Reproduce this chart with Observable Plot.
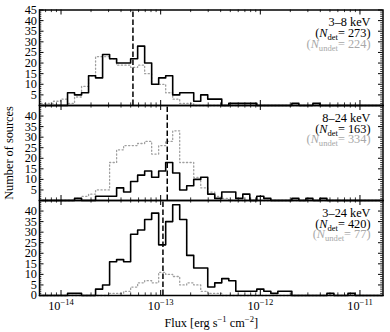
<!DOCTYPE html>
<html><head><meta charset="utf-8">
<script src="https://cdn.jsdelivr.net/npm/d3@7"></script>
<script src="https://cdn.jsdelivr.net/npm/@observablehq/plot@0.6"></script>
<style>
body{margin:0;background:#fff;}
#chart{position:relative;width:390px;height:332px;overflow:hidden;background:#fff;}
#chart svg{position:absolute;left:0;}
</style></head><body><div id="chart"></div>
<script>
// ---- data ----
const binLog0 = -14.216;      // log10 of first bin edge
const binLogWidth = 0.07035;  // bin width in dex
const nBins = 49;
const bands = ["3–8 keV", "8–24 keV", "3–24 keV"];
const nDet = [273, 163, 420];
const nUndet = [224, 334, 77];
const medianFlux = [5.27e-14, 1.164e-13, 1.054e-13];
const det38    = [0,0,0,0,6,5,6,14,13,24,22,20,20,22,28,20,10,13,14,5,6,6,2,5,3,3,0,1,1,1,1,0,0,0,0,0,1,0,0,1,0,0,0,0,0,0,0,0,0];
const undet38  = [1,1,2,3,1,4,9,14,23,23,22,19,19,18,19,15,10,10,6,3,1,1,0,0,0,0,0,0,0,0,0,0,0,0,0,0,0,0,0,0,0,0,0,0,0,0,0,0,0];
const det824   = [0,0,0,0,0,1,0,0,2,2,2,6,4,9,12,14,11,14,18,13,5,7,10,11,3,1,4,4,1,3,0,2,1,0,0,0,1,0,1,0,1,0,0,0,0,0,0,0,0];
const undet824 = [0,0,0,0,0,1,2,3,5,5,18,24,26,26,27,28,22,26,28,33,18,18,11,6,4,2,1,0,0,0,0,0,0,0,0,0,0,0,0,0,0,0,0,0,0,0,0,0,0];
const det324   = [0,0,0,0,1,1,0,0,3,5,16,17,16,29,31,36,39,24,35,43,36,19,13,13,4,6,8,7,2,2,2,3,2,1,2,2,0,0,0,0,0,1,0,0,1,0,0,0,0];
const undet324 = [0,0,0,0,0,0,0,0,0,0,1,1,2,4,6,7,6,11,10,9,5,6,5,2,1,1,0,0,0,0,0,0,0,0,0,0,0,0,0,0,0,0,0,0,0,0,0,0,0];
const xMajorTicks = [1e-14, 1e-13, 1e-12, 1e-11];
const xTickLabels = ["10^{−14}", "10^{−13}", "10^{−12}", "10^{−11}"];
const yLabelsTop = [5,10,15,20,25,30,35,40,45];
const yLabelsMid = [5,10,15,20,25,30,35,40];
const yLabelsBottom = [0,5,10,15,20,25,30,35,40];
const yMajorTicks = [0,5,10,15,20,25,30,35,40,45];
const xLabel = "Flux [erg s^{−1} cm^{−2}]";
const yLabel = "Number of sources";

// ---- drawing ----
const FS = 12.3;
const FONT = "'Liberation Serif', 'Times New Roman', serif";
const GRAY_TXT = "#a8a8a8";
const GRAY_LINE = "#a0a0a0";
const edges = d3.range(nBins + 1).map(k => Math.pow(10, binLog0 + k * binLogWidth));
const xLo = edges[0], xHi = edges[nBins];
const xMinorTicks = d3.range(-15, -10).flatMap(e => d3.range(2, 10).map(m => m * Math.pow(10, e))).filter(v => v > xLo && v < xHi);
const yMinorTicks = d3.range(0, 46).filter(v => v % 5 !== 0);

function stepPoints(counts) {
  const pts = [{x: edges[0], y: 0}];
  counts.forEach((c, k) => pts.push({x: edges[k], y: c}));
  pts.push({x: edges[nBins], y: counts[nBins - 1]});
  pts.push({x: edges[nBins], y: 0});
  return pts;
}

const panels = [
  {det: det38, undet: undet38, yLabels: yLabelsTop, top: 0, height: 105, mt: 9.5, mb: 0},
  {det: det824, undet: undet824, yLabels: yLabelsMid, top: 105, height: 95, mt: 0, mb: 0},
  {det: det324, undet: undet324, yLabels: yLabelsBottom, top: 200, height: 132, mt: 0, mb: 37}
];

const chart = document.getElementById("chart");
panels.forEach((p, i) => {
  const last = i === panels.length - 1;
  const marks = [
    Plot.line(stepPoints(p.undet), {x: "x", y: "y", curve: "step-after", stroke: GRAY_LINE, strokeWidth: 1.3, strokeDasharray: "1.2,2.4"}),
    Plot.line(stepPoints(p.det), {x: "x", y: "y", curve: "step-after", stroke: "black", strokeWidth: 1.6}),
    Plot.ruleX([medianFlux[i]], {x: d => d, y1: 0, y2: 45, stroke: "black", strokeWidth: 1.5, strokeDasharray: "5.5,2.5"}),
    // y ticks left & right
    Plot.ruleY(yMajorTicks, {y: d => d, x1: xLo, x2: xLo, insetRight: -4.5, stroke: "black", strokeWidth: 1}),
    Plot.ruleY(yMinorTicks, {y: d => d, x1: xLo, x2: xLo, insetRight: -2.3, stroke: "black", strokeWidth: 0.8}),
    Plot.ruleY(yMajorTicks, {y: d => d, x1: xHi, x2: xHi, insetLeft: -4.5, stroke: "black", strokeWidth: 1}),
    Plot.ruleY(yMinorTicks, {y: d => d, x1: xHi, x2: xHi, insetLeft: -2.3, stroke: "black", strokeWidth: 0.8}),
    // x ticks bottom & top
    Plot.ruleX(xMajorTicks, {x: d => d, y1: 0, y2: 0, insetTop: -5, stroke: "black", strokeWidth: 1}),
    Plot.ruleX(xMinorTicks, {x: d => d, y1: 0, y2: 0, insetTop: -2.6, stroke: "black", strokeWidth: 0.8}),
    Plot.ruleX(xMajorTicks, {x: d => d, y1: 45, y2: 45, insetBottom: -5, stroke: "black", strokeWidth: 1}),
    Plot.ruleX(xMinorTicks, {x: d => d, y1: 45, y2: 45, insetBottom: -2.6, stroke: "black", strokeWidth: 0.8}),
    Plot.frame({stroke: "black", strokeWidth: 1.5}),
    Plot.axisY(p.yLabels, {anchor: "left", tickSize: 0, tickPadding: 2.5, label: null, fill: "black"}),
    Plot.text([bands[i]], {text: d => d, frameAnchor: "top-right", dx: -12.5, dy: 16.3, textAnchor: "end", lineAnchor: "bottom", fill: "black"}),
    Plot.text([nDet[i]], {text: d => `(*N*_{det}= ${d})`, frameAnchor: "top-right", dx: -12.5, dy: 27.1, textAnchor: "end", lineAnchor: "bottom", fill: "black"}),
    Plot.text([nUndet[i]], {text: d => `(*N*_{undet}= ${d})`, frameAnchor: "top-right", dx: -12.5, dy: 37.9, textAnchor: "end", lineAnchor: "bottom", fill: GRAY_TXT})
  ];
  if (i === 1) {
    marks.push(Plot.text([yLabel], {text: d => d, frameAnchor: "left", dx: -30, rotate: -90, textAnchor: "middle", lineAnchor: "middle", fill: "black"}));
  }
  if (last) {
    marks.push(Plot.axisX(xMajorTicks, {anchor: "bottom", tickSize: 0, tickPadding: 6, label: null, fill: "black", tickFormat: d => xTickLabels[xMajorTicks.indexOf(d)]}));
    marks.push(Plot.text([xLabel], {text: d => d, frameAnchor: "bottom", dy: 31.5, textAnchor: "middle", lineAnchor: "bottom", fill: "black"}));
  }
  const svg = Plot.plot({
    width: 390, height: p.height,
    marginLeft: 39, marginRight: 7.5, marginTop: p.mt, marginBottom: p.mb,
    style: {overflow: "visible", background: "transparent", fontFamily: FONT, fontSize: FS + "px", color: "black"},
    x: last ? {type: "log", domain: [xLo, xHi]} : {type: "log", domain: [xLo, xHi], axis: null},
    y: {domain: [0, 45]},
    marks
  });
  svg.style.top = p.top + "px";
  chart.appendChild(svg);
});

// rich text: *italic*, _{sub}, ^{sup}
const NS = "http://www.w3.org/2000/svg";
chart.querySelectorAll("text").forEach(t => {
  const s = t.textContent;
  if (!/(\^\{|_\{|\*)/.test(s) || t.querySelector("tspan")) return;
  const parts = s.split(/(\^\{[^}]*\}|_\{[^}]*\}|\*[^*]*\*)/g).filter(q => q !== "");
  while (t.firstChild) t.removeChild(t.firstChild);
  let shift = 0;
  for (const q of parts) {
    const ts = document.createElementNS(NS, "tspan");
    let txt = q, dy = 0, small = false, ital = false;
    if (q.startsWith("^{")) { txt = q.slice(2, -1); dy = -0.42 * FS; small = true; }
    else if (q.startsWith("_{")) { txt = q.slice(2, -1); dy = 0.25 * FS; small = true; }
    else if (q.startsWith("*")) { txt = q.slice(1, -1); ital = true; }
    const delta = dy - shift;
    if (delta) ts.setAttribute("dy", delta.toFixed(2));
    shift = dy;
    if (small) ts.setAttribute("font-size", (0.7 * FS).toFixed(2));
    if (ital) ts.setAttribute("font-style", "italic");
    ts.textContent = txt;
    t.appendChild(ts);
  }
});
</script></body></html>
